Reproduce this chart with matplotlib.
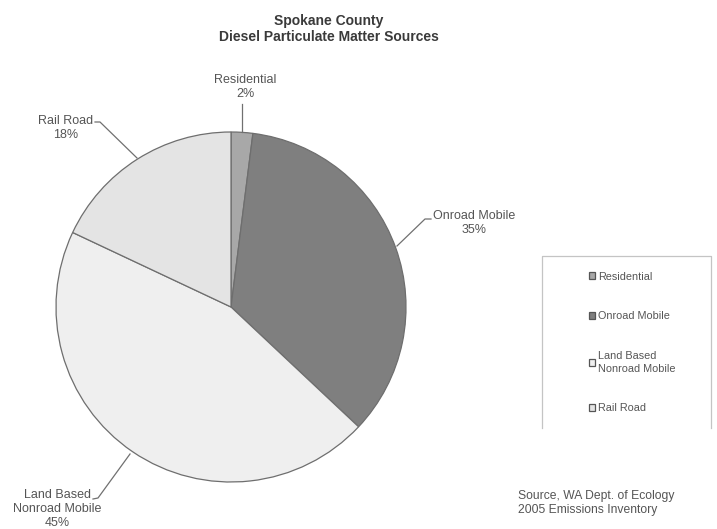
import matplotlib.pyplot as plt
from matplotlib.lines import Line2D

plt.rcParams['font.family'] = ['Liberation Sans', 'DejaVu Sans']

# data
sources = ["Residential", "Onroad Mobile", "Land Based\nNonroad Mobile", "Rail Road"]
shares = [2, 35, 45, 18]
colors = ["#a8a8a8", "#7f7f7f", "#efefef", "#e4e4e4"]

W, H = 717, 529
fig = plt.figure(figsize=(W / 100, H / 100), dpi=100)

# pie axes: center (231, 307) px, radius 175 px
cx, cy, r = 231, 307, 175
ax = fig.add_axes([(cx - r) / W, (H - cy - r) / H, 2 * r / W, 2 * r / H])
wedges, _ = ax.pie(shares, colors=colors, startangle=90, counterclock=False,
                   wedgeprops=dict(edgecolor="#6e6e6e", linewidth=0.9))
ax.set_xlim(-1, 1)
ax.set_ylim(-1, 1)
ax.set_aspect("equal")
ax.axis("off")


def px(x, y):
    return (x / W, 1 - y / H)


txt_color = "#555555"
line_color = "#707070"

# leader lines and labels: text centre, then line from text to pie edge
labels = [
    (f"{sources[0]}\n{shares[0]}%", (245, 87), [(242, 104), (242, 132)]),
    (f"{sources[1]}\n{shares[1]}%", (474, 223), [(431, 219), (425, 219), (397, 246)]),
    (f"{sources[2]}\n{shares[2]}%", (57, 509), [(93, 499), (98, 498), (130, 454)]),
    (f"{sources[3]}\n{shares[3]}%", (66, 128), [(95, 122), (100, 122), (137, 158)]),
]
for text, pos, pts in labels:
    fig.text(*px(*pos), text, ha="center", va="center", fontsize=9,
             color=txt_color, linespacing=1.2)
    xs = [p[0] / W for p in pts]
    ys = [1 - p[1] / H for p in pts]
    fig.add_artist(Line2D(xs, ys, color=line_color, linewidth=0.9))

# title
fig.text(*px(329, 29), "Spokane County\nDiesel Particulate Matter Sources",
         ha="center", va="center", fontsize=10, fontweight="bold",
         color="#3a3a3a", linespacing=1.15)

# legend frame (no bottom side)
fx0, fx1, fy0, fy1 = 542, 711, 256, 428
seg = [(fx0, fy1), (fx0, fy0), (fx1, fy0), (fx1, fy1)]
fig.add_artist(Line2D([p[0] / W for p in seg], [1 - p[1] / H for p in seg],
                      color="#c4c4c4", linewidth=0.9))

leg = fig.legend(wedges, sources, loc="upper left", bbox_to_anchor=px(581, 264),
                 frameon=False, fontsize=7.8, handlelength=0.6, handleheight=0.6,
                 handletextpad=0.3, labelspacing=2.75, borderpad=0.2)
for t in leg.get_texts():
    t.set_color(txt_color)
    t.set_linespacing(1.3)
for h in leg.legend_handles:
    h.set_edgecolor("#555555")

# source note
fig.text(*px(518, 503), "Source, WA Dept. of Ecology\n2005 Emissions Inventory",
         ha="left", va="center", fontsize=8.7, color=txt_color, linespacing=1.15)

fig.savefig("out.png", dpi=100)
plt.close(fig)
